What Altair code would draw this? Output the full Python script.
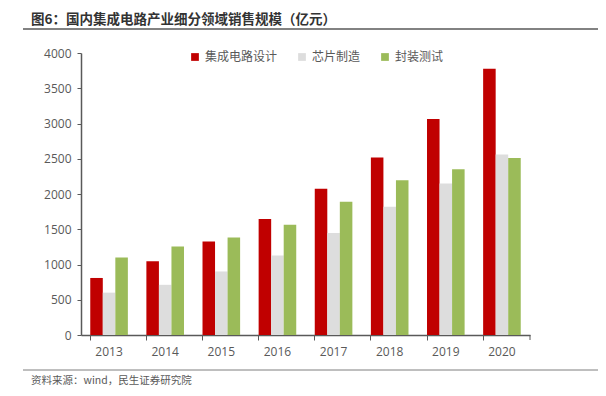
import altair as alt
import pandas as pd

years = ["2013", "2014", "2015", "2016", "2017", "2018", "2019", "2020"]
series = ["集成电路设计", "芯片制造", "封装测试"]
design = [809, 1047, 1325, 1644, 2073, 2519, 3064, 3778]
manufacture = [601, 712, 901, 1127, 1448, 1818, 2149, 2560]
packaging = [1099, 1256, 1384, 1564, 1889, 2194, 2350, 2510]
colors = ["#C00000", "#DDDDDD", "#9BBB59"]

title_text = "图6：国内集成电路产业细分领域销售规模（亿元）"
source_text = "资料来源：wind，民生证券研究院"

rows = []
for vals, s in zip([design, manufacture, packaging], series):
    for y, v in zip(years, vals):
        rows.append({"year": y, "series": s, "value": v})
df = pd.DataFrame(rows)

W, H = 449, 282
FONT = "Noto Sans CJK SC"

bars = alt.Chart(df).mark_bar().encode(
    x=alt.X("year:N", title=None, sort=years,
            scale=alt.Scale(paddingInner=0.33, paddingOuter=0.165),
            axis=alt.Axis(labelAngle=0, bandPosition=0, tickSize=5, labelPadding=6,
                          labelFontSize=12, labelColor="#595959", labelFont="Open Sans",
                          domainColor="#595959", tickColor="#595959")),
    xOffset=alt.XOffset("series:N", sort=series),
    y=alt.Y("value:Q", title=None,
            scale=alt.Scale(domain=[0, 4000]),
            axis=alt.Axis(values=list(range(0, 4001, 500)), format="d", tickSize=4, labelPadding=6,
                          grid=False, labelFontSize=12, labelColor="#595959",
                          labelFont="Open Sans", domainColor="#595959", tickColor="#595959")),
    color=alt.Color("series:N", sort=series,
                    scale=alt.Scale(domain=series, range=colors),
                    legend=alt.Legend(title=None, orient="none", direction="horizontal",
                                      legendX=108, legendY=-2, symbolType="square",
                                      symbolSize=60, symbolStrokeWidth=0,
                                      labelFontSize=12, labelColor="#595959", labelFont=FONT,
                                      columnPadding=18, symbolOffset=0, labelOffset=4)),
)

end_tick = alt.Chart(pd.DataFrame({"a": [0]})).mark_rule(color="#595959").encode(
    x=alt.value(W), y=alt.value(H), y2=alt.value(H + 5))

title_mark = alt.Chart(pd.DataFrame({"t": [title_text]})).mark_text(
    align="left", baseline="middle", fontSize=13.5, fontWeight="bold",
    color="#333333", font=FONT).encode(
    text="t:N", x=alt.value(-50), y=alt.value(-33))

title_line = alt.Chart(pd.DataFrame({"a": [0]})).mark_rule(color="#595959", strokeWidth=1.5).encode(
    x=alt.value(-58), x2=alt.value(519), y=alt.value(-24))

foot_line = alt.Chart(pd.DataFrame({"a": [0]})).mark_rule(color="#7F7F7F", strokeWidth=1).encode(
    x=alt.value(-58), x2=alt.value(519), y=alt.value(317))

foot_text = alt.Chart(pd.DataFrame({"t": [source_text]})).mark_text(
    align="left", baseline="middle", fontSize=10.5, color="#595959", font=FONT).encode(
    text="t:N", x=alt.value(-50), y=alt.value(328))

chart = alt.layer(bars, end_tick, title_mark, title_line, foot_line, foot_text).properties(
    width=W, height=H,
    autosize=alt.AutoSizeParams(type="none"),
    padding={"left": 73, "top": 45, "right": 68, "bottom": 53},
).configure_view(stroke=None).configure_axis(domainWidth=1.5)

chart.save("out.html", embed_options={"renderer": "svg", "actions": False})
